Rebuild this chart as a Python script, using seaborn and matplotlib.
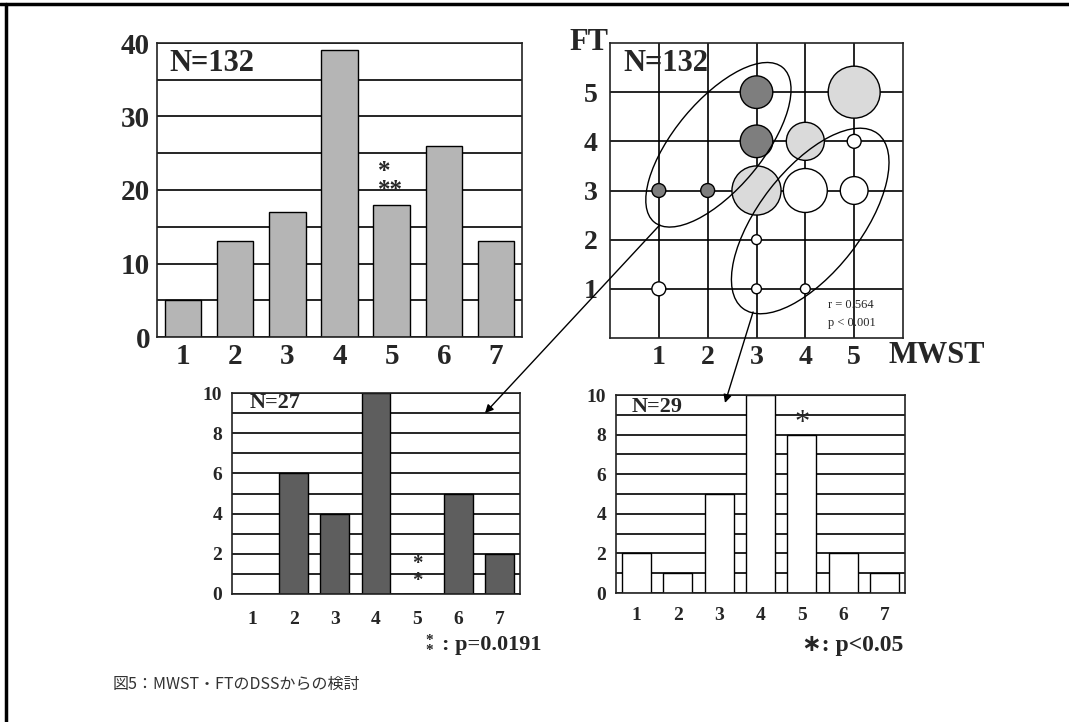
import matplotlib
matplotlib.use("Agg")
import matplotlib.pyplot as plt
from matplotlib.patches import Ellipse, ConnectionPatch
from matplotlib.lines import Line2D
import seaborn as sns
import pandas as pd

# DSS 1-7
dss = ['1', '2', '3', '4', '5', '6', '7']
all_counts = [5, 13, 17, 39, 18, 26, 13]     # N=132
grp_a_counts = [0, 6, 4, 10, 0, 5, 2]        # N=27 (upper-left ellipse)
grp_b_counts = [2, 1, 5, 10, 8, 2, 1]        # N=29 (lower-right ellipse)

# MWST x FT bubble chart
mwst = [1, 2, 3, 3, 3, 4, 5, 4, 5, 5, 3, 1, 3, 4]
ft = [3, 3, 5, 4, 3, 4, 5, 3, 3, 4, 2, 1, 1, 1]
n_pts = [2, 2, 11, 11, 25, 15, 28, 20, 8, 2, 1, 2, 1, 1]
shade = ['dark', 'dark', 'dark', 'dark', 'light', 'light', 'light',
         'white', 'white', 'white', 'white', 'white', 'white', 'white']

sns.set_style("white")
plt.rcParams['font.family'] = ['Liberation Serif', 'DejaVu Sans']
plt.rcParams['font.weight'] = 'bold'

W, H = 1069, 722
fig = plt.figure(figsize=(W / 100, H / 100), dpi=100)


def box(l, t, r, b):
    return [l / W, 1 - b / H, (r - l) / W, (b - t) / H]


def bar_panel(ax, vals, col, major, minor, top, fs, pad_x, pad_y):
    ax.set_axisbelow(True)
    sns.barplot(x=dss, y=vals, color=col, saturation=1, edgecolor='black',
                linewidth=1, width=0.7, ax=ax)
    ax.set_ylim(0, top)
    ax.set_yticks(major)
    ax.set_yticks(minor, minor=True)
    ax.grid(axis='y', which='both', color='black', lw=1.2)
    ax.tick_params(axis='both', which='both', length=0, labelsize=fs)
    ax.tick_params(axis='x', pad=pad_x)
    ax.tick_params(axis='y', pad=pad_y)
    ax.set_xlabel('')
    ax.set_ylabel('')
    for s in ax.spines.values():
        s.set_color('#222222')
        s.set_linewidth(1.2)


# top-left: all patients
ax1 = fig.add_axes(box(157, 43, 522, 337))
bar_panel(ax1, all_counts, '#b5b5b5', [0, 10, 20, 30, 40], [5, 15, 25, 35], 40, 21, 4, 5)
ax1.text(0.035, 0.93, 'N=132', transform=ax1.transAxes, fontsize=22, va='center')
ax1.text(3.98, 21.2, '*\n**', fontsize=18, ha='center', va='center',
         multialignment='left', linespacing=0.75)

# bottom-left
ax3 = fig.add_axes(box(232, 393, 520, 594))
bar_panel(ax3, grp_a_counts, '#5e5e5e', range(0, 11, 2), range(1, 10, 2), 10, 14, 12, 7)
ax3.text(0.06, 0.95, 'N=27', transform=ax3.transAxes, fontsize=16, va='center')
ax3.text(4, 1.05, '*\n*', fontsize=15, ha='center', va='center', linespacing=0.8)

# bottom-right
ax4 = fig.add_axes(box(616, 395, 905, 593))
bar_panel(ax4, grp_b_counts, 'white', range(0, 11, 2), range(1, 10, 2), 10, 14, 10, 7)
ax4.text(0.055, 0.94, 'N=29', transform=ax4.transAxes, fontsize=16, va='center')
ax4.text(4, 8.55, '*', fontsize=22, fontweight='normal', ha='center', va='center')

# top-right: MWST x FT
ax2 = fig.add_axes(box(610, 43, 903, 338))
df = pd.DataFrame({'MWST': mwst, 'FT': ft, 'n': n_pts, 'shade': shade})
ax2.set_axisbelow(True)
sns.scatterplot(data=df, x='MWST', y='FT', size='n', sizes=(50, 1400),
                size_norm=(1, 28), hue='shade',
                palette={'dark': '#7e7e7e', 'light': '#dadada', 'white': 'white'},
                edgecolor='black', linewidth=1, legend=False, ax=ax2, zorder=3)
ax2.set_xlim(0, 6)
ax2.set_ylim(0, 6)
ax2.set_xticks([1, 2, 3, 4, 5])
ax2.set_yticks([1, 2, 3, 4, 5])
ax2.grid(True, color='black', lw=1.2)
ax2.tick_params(length=0, labelsize=20)
ax2.tick_params(axis='x', pad=5)
ax2.tick_params(axis='y', pad=9)
ax2.set_xlabel('')
ax2.set_ylabel('')
for s in ax2.spines.values():
    s.set_color('#222222')
    s.set_linewidth(1.2)
ax2.add_patch(Ellipse((2.22, 3.93), width=4.1, height=1.8, angle=50,
                      fill=False, ec='black', lw=1, zorder=4))
ax2.add_patch(Ellipse((4.1, 2.38), width=4.5, height=2.1, angle=52,
                      fill=False, ec='black', lw=1, zorder=4))
ax2.text(0.045, 0.93, 'N=132', transform=ax2.transAxes, fontsize=22, va='center')
ax2.text(-0.005, 1.0, 'FT', transform=ax2.transAxes, fontsize=22,
         ha='right', va='center')
ax2.text(0.95, -0.058, 'MWST', transform=ax2.transAxes, fontsize=22,
         ha='left', va='center')
ax2.text(0.745, 0.112, 'r = 0.564', transform=ax2.transAxes, fontsize=9,
         fontweight='normal', va='center')
ax2.text(0.745, 0.05, 'p < 0.001', transform=ax2.transAxes, fontsize=9,
         fontweight='normal', va='center')

# arrows from the ellipses to the subgroup charts
for xa, xb, axb in [((1.02, 2.3), (5.65, 9.0), ax3), ((2.93, 0.53), (2.14, 9.6), ax4)]:
    con = ConnectionPatch(xyA=xa, coordsA=ax2.transData, xyB=xb, coordsB=axb.transData,
                          arrowstyle='-|>', mutation_scale=12, lw=1, color='black')
    fig.add_artist(con)

# significance notes
fig.text(542 / W, 1 - 645 / H, ': p=0.0191', fontsize=16, ha='right', va='center')
fig.text(429 / W, 1 - 645 / H, '*\n*', fontsize=11, ha='center', va='center',
         linespacing=0.7)
fig.text(903 / W, 1 - 645 / H, '∗: p<0.05', fontsize=17, ha='right', va='center')

# caption
fig.text(113 / W, 1 - 684 / H, '図5：MWST・FTのDSSからの検討',
         family=['Noto Sans CJK JP', 'DejaVu Sans'], fontweight='normal',
         fontsize=11.5, color='#333333', va='center')

# page frame
fig.add_artist(Line2D([0, 1], [1 - 4 / H, 1 - 4 / H], color='black', lw=2.5))
fig.add_artist(Line2D([6 / W, 6 / W], [0, 1 - 4 / H], color='black', lw=2.5))

fig.savefig('out.png', dpi=100)
